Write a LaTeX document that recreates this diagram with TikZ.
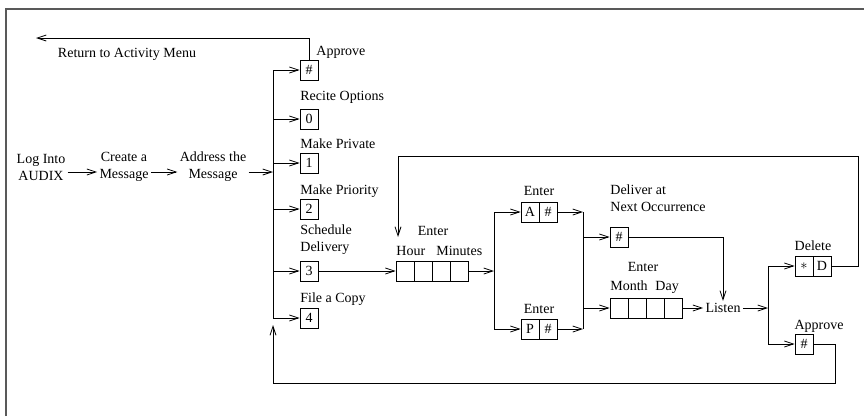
\documentclass[tikz,border=0pt]{standalone}
\usepackage{fontspec}
\setmainfont{Liberation Serif}
\usetikzlibrary{arrows.meta,positioning}

\begin{document}
\begin{tikzpicture}[x=1pt,y=-1pt,line width=0.8pt,
  >={Straight Barb[length=9pt,width=6pt]},
  font=\fontsize{14}{17}\selectfont,
  key/.style={draw,minimum width=18pt,minimum height=20pt,inner sep=0pt},
  lbl/.style={inner sep=2pt,align=center}]
  \useasboundingbox (0,0) rectangle (864,416);
  % frame
  \draw[black!65,line width=1.6pt] (6,416) -- (6,9) -- (864,9);

  % log in, create, address
  \node[lbl] (login) at (41,167) {Log Into\\AUDIX};
  \node[lbl] (create) at (124,167) {Create a\\Message};
  \node[lbl] (addr) at (213,167) {Address the\\Message};
  \coordinate (bus) at (273,0);
  \draw[->] ([yshift=-5pt]login.east) -- ([yshift=-5pt]create.west);
  \draw[->] ([yshift=-5pt]create.east) -- ([yshift=-5pt]addr.west);
  \draw[->] ([yshift=-5pt]addr.east) -- ([yshift=-5pt]addr.east -| bus);

  % activity options
  \node[key] (kA) at (309,70) {\#};
  \node[lbl,anchor=west] (tA) at (314,52) {Approve};
  \foreach \n/\y/\t in {0/119/{Recite Options},1/163/{Make Private},2/209/{Make Priority},
                         3/271/{Schedule\\Delivery},4/318/{File a Copy}}{
    \node[key] (k\n) at (309,\y) {\n};
  }
  \node[lbl,anchor=west] (t0) at (298,97) {Recite Options};
  \node[lbl,anchor=west] (t1) at (298,144) {Make Private};
  \node[lbl,anchor=west] (t2) at (298,191) {Make Priority};
  \node[lbl,anchor=west,align=left] (t3) at (298,239.5) {Schedule\\Delivery};
  \node[lbl,anchor=west] (t4) at (298,299) {File a Copy};
  \draw (bus |- kA) -- (bus |- k4);
  \foreach \n in {A,0,1,2,3,4}
    \draw[->] (bus |- k\n) -- (k\n);
  \coordinate (ret) at (36,38);
  \draw[->] (kA.north) |- (ret);
  \node[lbl] (rettxt) at (127,54) {Return to Activity Menu};

  % enter hour and minutes
  \foreach \i in {1,...,4}
    \node[key] (hm\i) at (387+18*\i,271) {};
  \node[lbl] (thm) at (433,231) {Enter};
  \node[lbl,anchor=west] (thm2) at (394,251) {Hour\hspace{0.8em}Minutes};
  \draw[->] (k3) -- (hm1);

  % enter A# or P#
  \coordinate (br1) at (494,0);
  \node[key] (a1) at (530,212) {A};
  \node[key] (a2) at (548,212) {\#};
  \node[key] (p1) at (530,329) {P};
  \node[key] (p2) at (548,329) {\#};
  \node[lbl] (ta) at (539,191) {Enter};
  \node[lbl] (tp) at (539,309) {Enter};
  \draw[->] (hm4) -- (br1 |- hm4);
  \draw (br1 |- a1) -- (br1 |- p1);
  \draw[->] (br1 |- a1) -- (a1);
  \draw[->] (br1 |- p1) -- (p1);

  % next occurrence or month and day
  \coordinate (br2) at (583,0);
  \node[key] (nx) at (619,237) {\#};
  \node[lbl,anchor=west,align=left] (tnx) at (608,198.5) {Deliver at\\Next Occurrence};
  \foreach \i in {1,...,4}
    \node[key] (md\i) at (601+18*\i,308) {};
  \node[lbl] (tmd) at (643,267) {Enter};
  \node[lbl,anchor=west] (tmd2) at (608,287) {Month\hspace{0.55em}Day};
  \draw[->] (a2) -- (br2 |- a2);
  \draw[->] (p2) -- (br2 |- p2);
  \draw (br2 |- a2) -- (br2 |- p2);
  \draw[->] (br2 |- nx) -- (nx);
  \draw[->] (br2 |- md1) -- (md1);

  % listen
  \node[lbl] (listen) at (723,308) {Listen};
  \draw[->] (md4) -- (listen);
  \draw[->] (nx) -| (listen);

  % delete or approve
  \coordinate (br3) at (768,0);
  \node[key] (del1) at (804,266) {$*$};
  \node[key] (del2) at (822,266) {D};
  \node[lbl] (tdel) at (813,246) {Delete};
  \node[key] (ap) at (804,344) {\#};
  \node[lbl] (tap) at (819,326) {Approve};
  \draw[->] (listen) -- (br3 |- listen);
  \draw (br3 |- del1) -- (br3 |- ap);
  \draw[->] (br3 |- del1) -- (del1);
  \draw[->] (br3 |- ap) -- (ap);

  % loops back
  \coordinate (lpR) at (858,156);
  \coordinate (hmIn) at (398,237);
  \draw[->] (del2) -| (lpR) -| (hmIn);
  \coordinate (apR) at (835,383);
  \coordinate (busIn) at (273,325);
  \draw[->] (ap) -| (apR) -| (busIn);
\end{tikzpicture}
\end{document}
